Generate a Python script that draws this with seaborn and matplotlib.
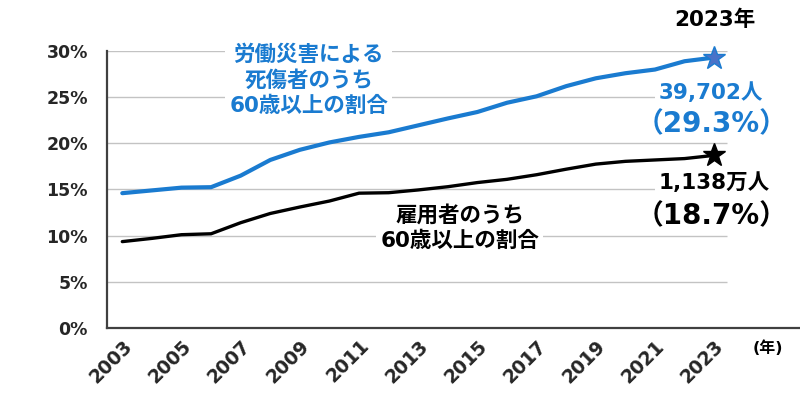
import matplotlib
matplotlib.use("Agg")
import matplotlib.pyplot as plt
import seaborn as sns
import pandas as pd

years = list(range(2003, 2024))
injury_share = [14.6, 14.9, 15.2, 15.25, 16.5, 18.2, 19.3, 20.1, 20.7, 21.2, 21.95,
                22.7, 23.4, 24.4, 25.1, 26.2, 27.05, 27.6, 28.0, 28.9, 29.3]
employee_share = [9.35, 9.7, 10.1, 10.2, 11.4, 12.4, 13.1, 13.75, 14.6, 14.65, 14.95,
                  15.3, 15.75, 16.1, 16.6, 17.2, 17.75, 18.05, 18.2, 18.35, 18.7]
y_ticks = [0, 5, 10, 15, 20, 25, 30]
x_label_years = list(range(2003, 2024, 2))

sns.set_style("white")
FAM = ["DejaVu Sans", "Noto Sans CJK JP"]
plt.rcParams["font.family"] = FAM
plt.rcParams["font.weight"] = "bold"

BLUE = "#1a7bd0"
STAR_BLUE = "#4a72c8"
DARK = "#404040"

df = pd.DataFrame({"year": years, "injury": injury_share, "employee": employee_share})

fig = plt.figure(figsize=(8, 3.96), dpi=100)
ax = fig.add_axes([0.134, 0.172, 0.866, 0.699])

# gridlines (end before right edge)
ax.hlines(y_ticks[1:], 2002.49, 2023.45, colors="#c3c3c3", linewidth=1.0, zorder=0)

sns.lineplot(data=df, x="year", y="injury", ax=ax, color=BLUE, linewidth=3.0, zorder=3)
sns.lineplot(data=df, x="year", y="employee", ax=ax, color="black", linewidth=2.4, zorder=3)

ax.plot([years[-1]], [injury_share[-1]], marker="*", markersize=17, color=STAR_BLUE,
        markeredgecolor=BLUE, markeredgewidth=1.0, zorder=5, clip_on=False)
ax.plot([years[-1]], [employee_share[-1]], marker="*", markersize=17, color="black",
        zorder=5, clip_on=False)

ax.set_xlim(2002.49, 2025.9)
ax.set_ylim(0, 30)
ax.set_xlabel("")
ax.set_ylabel("")

ax.set_xticks(years)
ax.set_xticklabels([str(y) if y in x_label_years else "" for y in years],
                   rotation=45, ha="right", rotation_mode="anchor",
                   fontsize=13.5, fontweight="bold")
ax.tick_params(axis="x", direction="in", length=5, width=1.3, color=DARK, pad=6)
ax.set_yticks(y_ticks)
ax.set_yticklabels([f"{v}%" for v in y_ticks], fontsize=12.5, fontweight="bold")
ax.tick_params(axis="y", length=0, pad=14)

for s in ["top", "right"]:
    ax.spines[s].set_visible(False)
for s in ["left", "bottom"]:
    ax.spines[s].set_color(DARK)
    ax.spines[s].set_linewidth(1.6)

bbox_w = dict(facecolor="white", edgecolor="none", pad=3)

ax.text(2009.3, 26.8, "労働災害による\n死傷者のうち\n60歳以上の割合", color=BLUE,
        fontsize=15.5, fontweight="bold", ha="center", va="center", linespacing=1.3,
        bbox=bbox_w, zorder=4, family=FAM)
ax.text(2014.4, 10.8, "雇用者のうち\n60歳以上の割合", color="black",
        fontsize=15.5, fontweight="bold", ha="center", va="center", linespacing=1.3,
        bbox=bbox_w, zorder=4, family=FAM)

ax.text(2023.03, 33.4, "2023年", color="black", fontsize=15.5, fontweight="bold",
        ha="center", va="center", clip_on=False, family=FAM)
ax.text(2022.9, 25.5, "39,702人", color=BLUE, fontsize=15.5, fontweight="bold",
        ha="center", va="center", bbox=bbox_w, zorder=4, family=FAM)
ax.text(2022.9, 22.1, "（29.3%）", color=BLUE, fontsize=20, fontweight="bold",
        ha="center", va="center", zorder=4, family=FAM)
ax.text(2023.0, 15.7, "1,138万人", color="black", fontsize=15.5, fontweight="bold",
        ha="center", va="center", bbox=bbox_w, zorder=4, family=FAM)
ax.text(2022.9, 12.1, "（18.7%）", color="black", fontsize=20, fontweight="bold",
        ha="center", va="center", zorder=4, family=FAM)
ax.text(2024.8, -2.2, "(年)", color="black", fontsize=11.5, fontweight="bold",
        ha="center", va="center", clip_on=False, family=FAM)

fig.savefig("out.png", dpi=100)
